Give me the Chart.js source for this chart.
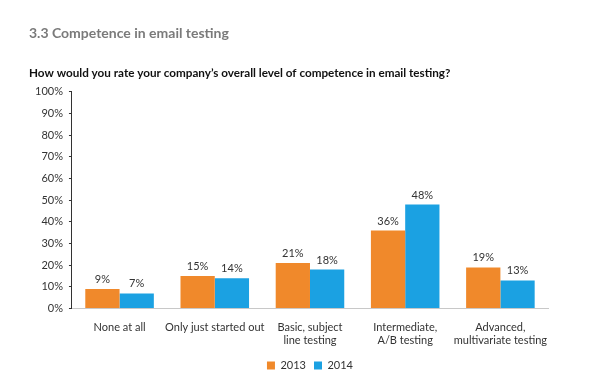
<!DOCTYPE html>
<html>
<head>
<meta charset="utf-8">
<script src="https://cdn.jsdelivr.net/npm/chart.js@4/dist/chart.umd.min.js"></script>
<style>
  html, body { margin: 0; padding: 0; background: #ffffff; }
  #wrap { width: 600px; height: 388px; position: relative; }
</style>
</head>
<body>
<div id="wrap"><canvas id="competenceChart"></canvas></div>
<script>
const categories = [
  "None at all",
  "Only just started out",
  ["Basic, subject", "line testing"],
  ["Intermediate,", "A/B testing"],
  ["Advanced,", "multivariate testing"],
];
const values2013 = [9, 15, 21, 36, 19];
const values2014 = [7, 14, 18, 48, 13];
const yTicks = [0, 10, 20, 30, 40, 50, 60, 70, 80, 90, 100];

const FONT = "Lato, sans-serif";

const barLabels = {
  id: "barLabels",
  afterDatasetsDraw(chart) {
    const { ctx } = chart;
    ctx.save();
    ctx.font = "11px " + FONT;
    ctx.fillStyle = "#333333";
    ctx.textAlign = "center";
    ctx.textBaseline = "bottom";
    chart.data.datasets.forEach((ds, i) => {
      chart.getDatasetMeta(i).data.forEach((bar, j) => {
        ctx.fillText(ds.data[j] + "%", bar.x, bar.y - 4);
      });
    });
    ctx.restore();
  },
};

new Chart(document.getElementById("competenceChart"), {
  type: "bar",
  data: {
    labels: categories,
    datasets: [
      {
        label: "2013",
        data: values2013,
        backgroundColor: "#f0892b",
        barPercentage: 1,
        categoryPercentage: 0.72,
      },
      {
        label: "2014",
        data: values2014,
        backgroundColor: "#1ba1e2",
        barPercentage: 1,
        categoryPercentage: 0.72,
      },
    ],
  },
  options: {
    responsive: true,
    maintainAspectRatio: false,
    animation: false,
    layout: { padding: { left: 29, right: 52, top: 25, bottom: 7 } },
    plugins: {
      title: {
        display: true,
        text: "3.3 Competence in email testing",
        align: "start",
        color: "#7a7a7a",
        font: { family: FONT, size: 14, weight: "bold" },
        padding: { top: 0, bottom: 24 },
      },
      subtitle: {
        display: true,
        text: "How would you rate your company\u2019s overall level of competence in email testing?",
        align: "start",
        color: "#111111",
        font: { family: FONT, size: 11.7, weight: "bold" },
        padding: { top: 0, bottom: 12 },
      },
      legend: {
        position: "bottom",
        fullSize: false,
        labels: {
          boxWidth: 8,
          boxHeight: 8,
          padding: 8,
          color: "#333333",
          font: { family: FONT, size: 11 },
        },
      },
      tooltip: { enabled: false },
    },
    scales: {
      x: {
        grid: { display: false },
        border: { color: "#c8c8c8" },
        afterFit: (axis) => {
          axis.height += 1;
        },
        ticks: {
          color: "#333333",
          font: { family: FONT, size: 11 },
          maxRotation: 0,
          autoSkip: false,
          padding: 4,
        },
      },
      y: {
        min: 0,
        max: 100,
        afterBuildTicks: (axis) => {
          axis.ticks = yTicks.map((v) => ({ value: v }));
        },
        grid: { drawOnChartArea: false, tickLength: 3, color: "#333333" },
        border: { color: "#333333" },
        ticks: {
          color: "#333333",
          font: { family: FONT, size: 11 },
          padding: 6,
          callback: (v) => v + "%",
        },
      },
    },
  },
  plugins: [barLabels],
});
</script>
</body>
</html>
